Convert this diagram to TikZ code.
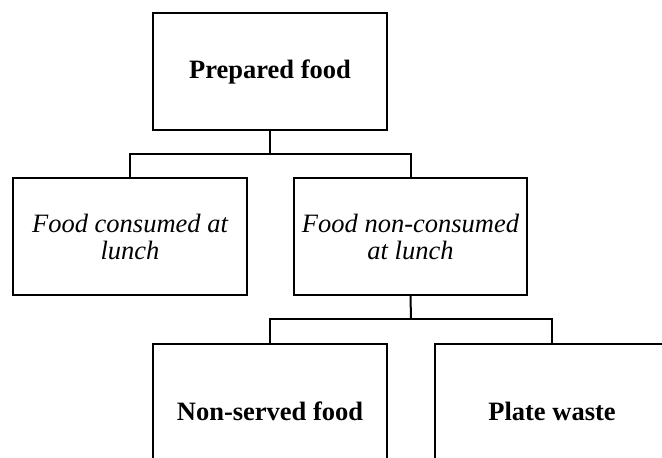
\documentclass[tikz,border=0pt]{standalone}
\usepackage{fontspec}
\setmainfont{Liberation Serif}
\tikzset{
  box/.style={draw, line width=2pt, inner sep=0pt, minimum width=234pt, minimum height=117pt, align=center,
    font=\fontsize{26.5}{27}\selectfont},
  tallbox/.style={box, minimum height=134pt},
  link/.style={line width=2pt}
}
\begin{document}
\begin{tikzpicture}[x=1pt,y=-1pt]
\useasboundingbox (0,0) rectangle (662,458);
\clip (0,0) rectangle (662,458);
\node[box] (top) at (270,71.5) {\bfseries Prepared food};
\node[box] (c1) at (130,236.5) {\itshape Food consumed at\\\itshape lunch};
\node[box, minimum width=233pt] (c2) at (410.5,236.5) {\itshape Food non-consumed\\\itshape at lunch};
\node[tallbox] (b1) at (270,411) {\bfseries Non-served food};
\node[tallbox] (b2) at (552,411) {\bfseries Plate waste};
\coordinate (j1) at (270,154);
\coordinate (j2) at (411,319);
\draw[link] (top.south) -- (j1);
\draw[link] (c1.north) |- (j1) -| (c2.north);
\draw[link] (c2.south) -- (j2);
\draw[link] (b1.north) |- (j2) -| (b2.north);
\end{tikzpicture}
\end{document}
